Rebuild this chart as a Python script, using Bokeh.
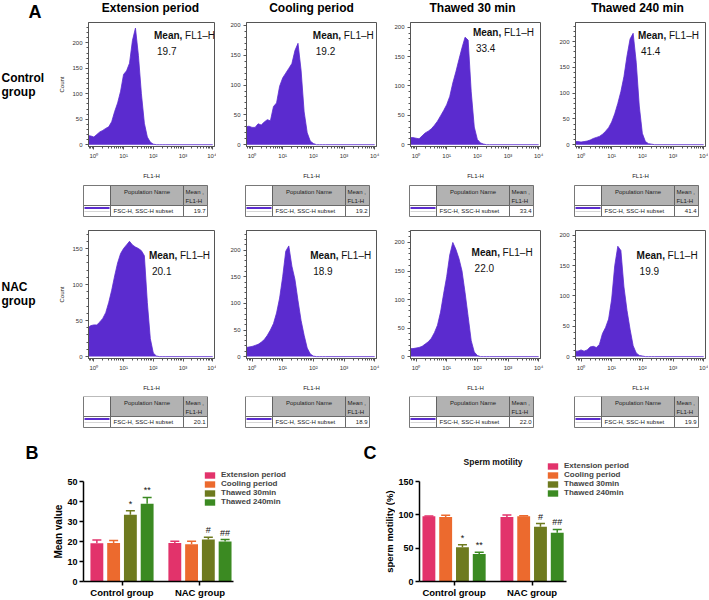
from math import pi
from bokeh.plotting import figure
from bokeh.layouts import row, column
from bokeh.models import (FixedTicker, Range1d, ColumnDataSource, Whisker, TeeHead,
                          Legend, LegendItem, LinearScale)
from bokeh.transform import dodge
from bokeh.core.properties import value
from bokeh.embed import file_html
from bokeh.resources import INLINE

FONT = "Liberation Sans"

# ---------------- data ----------------
column_titles = ["Extension period", "Cooling period", "Thawed 30 min", "Thawed 240 min"]
row_names = [["Control", "group"], ["NAC", "group"]]

# FL1-H channel (log-spaced bins) and counts
fl1_bins = [0.631, 0.794, 1.0, 1.259, 1.585, 1.995, 2.512, 3.162, 3.981, 5.012,
            6.310, 7.943, 10.0, 12.59, 15.85, 19.95, 25.12, 31.62, 39.81, 50.12,
            63.10, 79.43, 100.0, 125.9, 158.5, 199.5, 251.2, 1000.0, 10000.0]
ctrl_extension = [18, 17, 15, 20, 25, 28, 32, 35, 45, 65, 82, 105, 138, 145, 160, 205, 229, 175, 100, 42, 15, 5, 1, 0, 0, 0, 0, 0, 0]
ctrl_cooling = [30, 31, 29, 29, 35, 33, 38, 42, 40, 64, 70, 98, 112, 120, 128, 136, 158, 170, 125, 55, 20, 6, 2, 0, 0, 0, 0, 0, 0]
ctrl_thawed30 = [12, 12, 11, 10, 15, 20, 23, 27, 33, 40, 49, 58, 68, 82, 105, 124, 145, 165, 183, 178, 90, 30, 9, 3, 1, 0, 0, 0, 0]
ctrl_thawed240 = [6, 6, 5, 6, 7, 9, 12, 14, 16, 20, 26, 33, 44, 60, 80, 103, 132, 172, 205, 216, 160, 75, 22, 6, 2, 1, 0, 0, 0]
nac_extension = [40, 43, 44, 44, 48, 53, 61, 75, 92, 112, 130, 143, 150, 155, 160, 155, 152, 150, 147, 140, 75, 25, 5, 1, 0, 0, 0, 0, 0]
nac_cooling = [17, 18, 19, 21, 23, 27, 32, 40, 50, 62, 82, 110, 150, 198, 208, 170, 145, 105, 68, 40, 16, 5, 1, 0, 0, 0, 0, 0, 0]
nac_thawed30 = [14, 14, 15, 16, 18, 22, 26, 32, 42, 55, 78, 110, 140, 178, 200, 188, 172, 150, 112, 70, 28, 8, 2, 0, 0, 0, 0, 0, 0]
nac_thawed240 = [9, 9, 11, 9, 11, 16, 17, 15, 20, 38, 48, 62, 95, 150, 182, 175, 115, 76, 45, 18, 6, 2, 1, 0, 0, 0, 0, 0, 0]

ctrl_ymax = [240, 205, 208, 237]
nac_ymax = [175, 237, 221, 208]
ctrl_yticks = [[0, 50, 100, 150, 200]] * 4
nac_yticks = [[0, 50, 100, 150], [0, 50, 100, 150, 200], [0, 50, 100, 150, 200], [0, 50, 100, 150, 200]]

mean_fl1h_ctrl = ["19.7", "19.2", "33.4", "41.4"]
mean_fl1h_nac = ["20.1", "18.9", "22.0", "19.9"]

periods = ["Extension period", "Cooling period", "Thawed 30min", "Thawed 240min"]
groups = ["Control group", "NAC group"]
mean_ctrl = [19.2, 19.3, 33.4, 38.9]
mean_ctrl_err = [1.6, 1.2, 2.0, 3.2]
mean_nac = [19.3, 18.7, 21.0, 20.0]
mean_nac_err = [0.9, 1.5, 1.1, 1.0]
mot_ctrl = [97.9, 96.9, 51.6, 41.3]
mot_ctrl_err = [0.6, 2.5, 3.5, 2.5]
mot_nac = [96.9, 97.9, 82.1, 73.3]
mot_nac_err = [3.0, 1.0, 5.0, 5.0]
sig_ctrl = ["", "", "*", "**"]
sig_nac = ["", "", "#", "##"]

# ---------------- layout / styles ----------------
PURPLE = "#5b2bcf"
bar_colors = ["#e2336b", "#ec6a2e", "#6e7a1f", "#3b8a22"]
bar_offsets = [-0.3225, -0.1075, 0.1075, 0.3225]

LABEL_W = 56
col_widths = [160, 166, 165, 161]
col_mbl = [28, 30, 28, 28]
col_mbr = [2, 6, 7, 3]
title_centers = [150, 311, 472, 637]

mean_pos_ctrl = [(0.52, 13), (0.51, 13), (0.48, 10), (0.48, 13)]
mean_pos_nac = [(0.48, 25), (0.49, 25), (0.47, 22), (0.47, 25)]


def blank_fig(w, h, mbt=0, mbb=0):
    # frame is given the same top/bottom borders as its row neighbours;
    # the y range is expressed in canvas pixels (downwards)
    p = figure(width=w, height=h, x_range=Range1d(0, w), y_range=Range1d(h - mbb, mbt),
               x_axis_location=None, y_axis_location=None, min_border=0,
               min_border_top=mbt, min_border_bottom=mbb,
               output_backend="svg", toolbar_location=None)
    p.outline_line_color = None
    p.xgrid.visible = False
    p.ygrid.visible = False
    return p


def hist_fig(counts, ymax, yticks, ci, height, mbt, mean_txt, mpos, ylabel):
    p = figure(width=col_widths[ci], height=height, x_axis_type="log",
               x_range=Range1d(10 ** -0.18, 10 ** 4.06),
               y_range=Range1d(-ymax * 0.015, ymax),
               min_border_left=col_mbl[ci], min_border_right=col_mbr[ci],
               min_border_top=mbt, min_border_bottom=38,
               output_backend="svg", toolbar_location=None)
    p.extra_x_ranges = {"fx": Range1d(0, 1)}
    p.extra_y_ranges = {"fy": Range1d(0, 1)}
    p.extra_x_scales = {"fx": LinearScale()}
    p.extra_y_scales = {"fy": LinearScale()}
    p.varea(x=fl1_bins, y1=0, y2=counts, fill_color=PURPLE, fill_alpha=1)
    p.line(x=fl1_bins, y=counts, line_color=PURPLE, line_width=0.8)
    p.xgrid.visible = False
    p.ygrid.visible = False
    p.outline_line_color = "#555555"
    p.outline_line_width = 1
    p.xaxis.ticker = FixedTicker(ticks=[1, 10, 100, 1000, 10000],
                                 minor_ticks=[k * 10 ** d for d in range(-1, 4) for k in range(2, 10)])
    p.xaxis.major_label_overrides = {1: "10\u2070", 10: "10\u00b9", 100: "10\u00b2",
                                     1000: "10\u00b3", 10000: "10\u2074"}
    p.yaxis.ticker = FixedTicker(ticks=yticks, minor_ticks=[v for v in range(10, int(ymax), 10)])
    for ax in (p.xaxis[0], p.yaxis[0]):
        ax.axis_line_color = "#555555"
        ax.major_tick_line_color = "#555555"
        ax.minor_tick_line_color = "#555555"
        ax.major_tick_out = 3
        ax.major_tick_in = 0
        ax.minor_tick_out = 2
        ax.minor_tick_in = 0
        ax.major_label_text_font = FONT
        ax.major_label_text_font_size = "6px"
        ax.major_label_text_color = "#333333"
        ax.major_label_standoff = 3
        ax.axis_label_text_font = FONT
        ax.axis_label_text_font_size = "6px"
        ax.axis_label_text_font_style = "normal"
        ax.axis_label_text_color = "#222222"
    p.xaxis.axis_label = "FL1-H"
    p.xaxis.axis_label_standoff = 11
    if ylabel:
        p.yaxis.axis_label = "Count"
        p.yaxis.axis_label_standoff = 4
    fh = height - mbt - 38
    fx, dy = mpos
    fy = 1 - dy / fh
    fy2 = 1 - (dy + 15) / fh
    p.text(x=[fx], y=[fy], text=["Mean,"], x_range_name="fx", y_range_name="fy",
           text_font=value(FONT), text_font_size="10px", text_font_style="bold",
           text_baseline="middle", text_align="left", text_color="#111111")
    p.text(x=[fx], y=[fy], text=["FL1\u2013H"], x_range_name="fx", y_range_name="fy",
           x_offset=31, text_font=value(FONT), text_font_size="10px",
           text_baseline="middle", text_align="left", text_color="#111111")
    p.text(x=[fx], y=[fy2], text=[mean_txt], x_range_name="fx", y_range_name="fy",
           x_offset=3, text_font=value(FONT), text_font_size="10px",
           text_baseline="middle", text_align="left", text_color="#111111")
    return p


def label_fig(h, mbt, lines, ys):
    p = blank_fig(LABEL_W, h, mbt, 38)
    p.text(x=[1, 1], y=ys, text=lines, text_font=value(FONT), text_font_size="12px",
           text_font_style="bold", text_baseline="middle", text_align="left")
    return p


def title_strip():
    p = blank_fig(708, 22)
    p.text(x=[28], y=[11.5], text=["A"], text_font=value(FONT), text_font_size="18px",
           text_font_style="bold", text_baseline="middle", text_align="left")
    p.text(x=title_centers, y=[7] * 4, text=column_titles, text_font=value(FONT),
           text_font_size="12px", text_font_style="bold", text_baseline="middle",
           text_align="center")
    return p


def table_fig(means, y0):
    p = blank_fig(708, 34)
    lefts = []
    acc = LABEL_W
    for ci in range(4):
        lefts.append(acc + col_mbl[ci] - 1)
        acc += col_widths[ci]
    cw = [27, 73, 24]
    hh, rh = 20, 11
    for x0, m in zip(lefts, means):
        xs = [x0, x0 + cw[0], x0 + cw[0] + cw[1], x0 + cw[0] + cw[1] + cw[2]]
        p.quad(left=xs[:3], right=xs[1:], top=[y0] * 3, bottom=[y0 + hh] * 3,
               fill_color=["white", "#b2b2b2", "#b2b2b2"], line_color="#555555", line_width=0.8)
        p.quad(left=xs[:3], right=xs[1:], top=[y0 + hh] * 3, bottom=[y0 + hh + rh] * 3,
               fill_color="white", line_color="#555555", line_width=0.8)
        p.segment(x0=[xs[0] + 1], y0=[y0 + hh + 2.5], x1=[xs[1] - 1], y1=[y0 + hh + 2.5],
                  line_color=PURPLE, line_width=2)
        p.segment(x0=[xs[0] + 1], y0=[y0 + hh + 6], x1=[xs[1] - 1], y1=[y0 + hh + 6],
                  line_color="#bbbbbb", line_width=0.6)
        p.text(x=[(xs[1] + xs[2]) / 2], y=[y0 + 6], text=["Population Name"],
               text_font=value(FONT), text_font_size="6px", text_align="center",
               text_baseline="middle", text_color="#222222")
        p.text(x=[xs[2] + 2, xs[2] + 2], y=[y0 + 6, y0 + 15], text=["Mean ,", "FL1-H"],
               text_font=value(FONT), text_font_size="6px", text_align="left",
               text_baseline="middle", text_color="#222222")
        p.text(x=[xs[1] + 3], y=[y0 + hh + 5], text=["FSC-H, SSC-H subset"],
               text_font=value(FONT), text_font_size="6px", text_align="left",
               text_baseline="middle", text_color="#222222")
        p.text(x=[xs[3] - 2], y=[y0 + hh + 5], text=[m],
               text_font=value(FONT), text_font_size="6px", text_align="right",
               text_baseline="middle", text_color="#222222")
    return p


BOT_H, BOT_T, BOT_B = 170, 14, 16


def bar_fig(ctrl, ctrl_err, nac, nac_err, yticks, ytop, xr, xaxis_end, width, mbl, mbr,
            title, legend_loc):
    p = figure(width=width, height=BOT_H, x_range=Range1d(*xr), y_range=Range1d(0, ytop),
               min_border_left=mbl, min_border_right=mbr, min_border_top=BOT_T,
               min_border_bottom=BOT_B, output_backend="svg", toolbar_location=None)
    p.xgrid.visible = False
    p.ygrid.visible = False
    p.outline_line_color = None
    items = []
    for i, per in enumerate(periods):
        src = ColumnDataSource(dict(
            x=[0, 1], top=[ctrl[i], nac[i]],
            upper=[ctrl[i] + ctrl_err[i], nac[i] + nac_err[i]],
            sig=[sig_ctrl[i], sig_nac[i]]))
        w = Whisker(source=src, base=dodge("x", bar_offsets[i]), upper="upper", lower="top",
                    dimension="height", line_color=bar_colors[i], line_width=1.5,
                    upper_head=TeeHead(size=9, line_color=bar_colors[i], line_width=1.5),
                    lower_head=None)
        p.add_layout(w)
        r = p.vbar(x=dodge("x", bar_offsets[i]), top="top", width=0.165, source=src,
                   fill_color=bar_colors[i], line_color=None)
        p.text(x=dodge("x", bar_offsets[i]), y="upper", text="sig", source=src,
               y_offset=-2, text_font=value(FONT), text_font_size="9px",
               text_align="center", text_baseline="bottom", text_color="#111111")
        items.append(LegendItem(label=per, renderers=[r]))
    legend = Legend(items=items, location=legend_loc, orientation="vertical",
                    glyph_width=13, glyph_height=8, label_height=9, label_standoff=5,
                    spacing=0, padding=0, margin=0,
                    label_text_font=FONT, label_text_font_size="8px",
                    label_text_font_style="bold", background_fill_alpha=0,
                    border_line_alpha=0)
    p.add_layout(legend)
    p.xaxis.ticker = FixedTicker(ticks=[0, 1])
    p.xaxis.major_label_overrides = {0: groups[0], 1: groups[1]}
    p.xaxis.bounds = (xr[0], xaxis_end)
    p.yaxis.ticker = FixedTicker(ticks=yticks)
    p.yaxis.bounds = (0, yticks[-1])
    for ax in (p.xaxis[0], p.yaxis[0]):
        ax.axis_line_width = 1.5
        ax.axis_line_color = "black"
        ax.major_tick_line_width = 1.5
        ax.major_tick_out = 4
        ax.major_tick_in = 0
        ax.minor_tick_line_color = None
        ax.major_label_standoff = 2
        ax.major_label_text_font = FONT
        ax.major_label_text_font_style = "bold"
        ax.major_label_text_color = "black"
    p.xaxis.major_label_standoff = 1
    p.xaxis.major_label_text_font_size = "9.5px"
    p.yaxis.major_label_text_font_size = "9px"
    if title:
        p.text(x=[0.5], y=[ytop], text=[title], y_offset=17, text_font=value(FONT),
               text_font_size="8.5px", text_font_style="bold", text_align="center",
               text_baseline="middle", text_color="#111111")
    return p


# ---------------- panel A ----------------
ctrl_counts = [ctrl_extension, ctrl_cooling, ctrl_thawed30, ctrl_thawed240]
nac_counts = [nac_extension, nac_cooling, nac_thawed30, nac_thawed240]

row1 = [label_fig(162, 0, row_names[0], [55, 69])]
row2 = [label_fig(178, 12, row_names[1], [68, 82])]
for ci in range(4):
    row1.append(hist_fig(ctrl_counts[ci], ctrl_ymax[ci], ctrl_yticks[ci], ci, 162, 0,
                         mean_fl1h_ctrl[ci], mean_pos_ctrl[ci], ci == 0))
    row2.append(hist_fig(nac_counts[ci], nac_ymax[ci], nac_yticks[ci], ci, 178, 12,
                         mean_fl1h_nac[ci], mean_pos_nac[ci], ci == 0))

tab1 = table_fig(mean_fl1h_ctrl, 1)
tab2 = table_fig(mean_fl1h_nac, 0)

# ---------------- panels B & C ----------------
b_label = blank_fig(64, BOT_H, BOT_T, BOT_B)
b_label.text(x=[25], y=[23], text=["B"], text_font=value(FONT), text_font_size="18px",
             text_font_style="bold", text_baseline="middle", text_align="left")
b_label.text(x=[58], y=[103], text=["Mean value"], angle=pi / 2, text_font=value(FONT),
             text_font_size="10px", text_font_style="bold", text_baseline="middle",
             text_align="center")
c_label = blank_fig(40, BOT_H, BOT_T, BOT_B)
c_label.text(x=[8], y=[23], text=["C"], text_font=value(FONT), text_font_size="18px",
             text_font_style="bold", text_baseline="middle", text_align="left")
c_label.text(x=[33.5], y=[103], text=["sperm motility (%)"], angle=pi / 2, text_font=value(FONT),
             text_font_size="9.5px", text_font_style="bold", text_baseline="middle",
             text_align="center")

fig_b = bar_fig(mean_ctrl, mean_ctrl_err, mean_nac, mean_nac_err,
                [0, 10, 20, 30, 40, 50], 68.6, (-0.494, 2.2), 1.43, 291, 16, 62,
                None, (120, 75))
fig_c = bar_fig(mot_ctrl, mot_ctrl_err, mot_nac, mot_nac_err,
                [0, 50, 100, 150], 205.9, (-0.443, 2.3), 1.443, 313, 21, 75,
                "Sperm motility", (127, 84))

layout = column(title_strip(), row(*row1), tab1, row(*row2), tab2,
                row(b_label, fig_b, c_label, fig_c))

open("out.html", "w").write(file_html(layout, INLINE))
